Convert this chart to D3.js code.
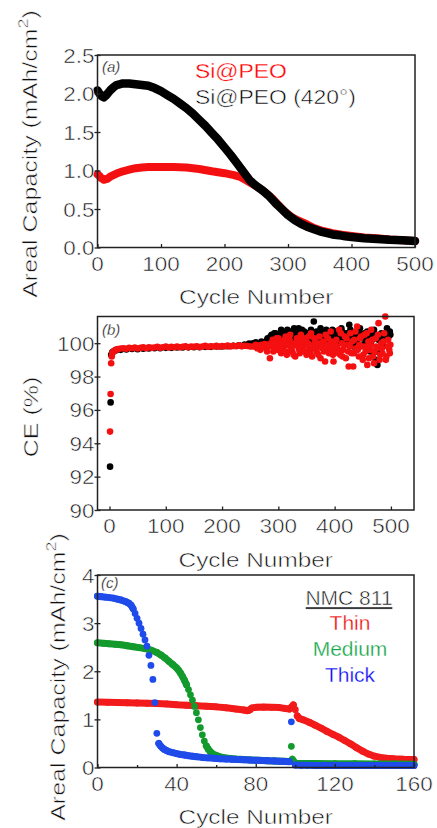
<!DOCTYPE html>
<html><head><meta charset="utf-8">
<script src="https://cdn.jsdelivr.net/npm/d3@7"></script>
<style>html,body{margin:0;padding:0;background:#fff;}svg{display:block;font-family:'Liberation Sans',Arial,Helvetica,sans-serif;}
text{stroke:#fff;stroke-width:0.55px;paint-order:normal;}
text.leg{stroke-width:0.3px;}</style>
</head><body>
<svg id="chart" width="437" height="828"></svg>
<script>
// ---------- Panel (a): areal capacity vs cycle ----------
const siPeoCapA = [[0,0.95],[3,0.93],[6,0.90],[10,0.88],[15,0.89],[20,0.92],[30,0.96],[40,0.99],[50,1.01],[60,1.03],[70,1.04],[80,1.045],[100,1.045],[120,1.045],[140,1.04],[160,1.02],[180,0.99],[200,0.965],[215,0.94],[225,0.915],[235,0.87],[245,0.82],[255,0.77],[265,0.71],[275,0.64],[285,0.55],[295,0.465],[305,0.40],[315,0.355],[325,0.32],[340,0.255],[355,0.215],[370,0.185],[385,0.165],[400,0.15],[420,0.13],[440,0.12],[460,0.105],[480,0.095],[500,0.085]];
const siPeo420CapA = [[0,2.04],[3,2.00],[6,1.97],[10,1.95],[14,1.98],[20,2.04],[25,2.08],[30,2.11],[40,2.13],[50,2.13],[60,2.12],[70,2.11],[80,2.10],[90,2.07],[100,2.03],[110,1.98],[120,1.93],[130,1.87],[140,1.81],[150,1.74],[160,1.66],[170,1.58],[180,1.49],[190,1.40],[200,1.30],[210,1.20],[220,1.09],[230,0.98],[240,0.87],[250,0.80],[260,0.74],[270,0.67],[280,0.58],[290,0.50],[300,0.42],[310,0.36],[320,0.31],[330,0.27],[340,0.24],[350,0.21],[360,0.19],[370,0.17],[380,0.16],[390,0.145],[400,0.135],[420,0.12],[440,0.11],[460,0.10],[480,0.095],[500,0.085]];
const capTicksA = [0,0.5,1.0,1.5,2.0,2.5];
const cycleTicksA = [0,100,200,300,400,500];
const legendA = ["Si@PEO","Si@PEO (420°)"];

// ---------- Panel (b): coulombic efficiency ----------
const siPeoCE = [[1,94.7],[2,96.95],[3,98.8],[4,99.2],[5,99.4],[7,99.5],[9,99.55],[11,99.6],[13,99.62],[15,99.65],[20,99.68],[25,99.70],[30,99.66],[35,99.72],[40,99.70],[45,99.74],[50,99.68],[55,99.72],[60,99.75],[65,99.70],[70,99.76],[75,99.72],[80,99.74],[85,99.78],[90,99.72],[95,99.76],[100,99.80],[105,99.74],[110,99.78],[115,99.76],[120,99.80],[125,99.75],[130,99.78],[135,99.82],[140,99.76],[145,99.80],[150,99.78],[155,99.82],[160,99.77],[165,99.80],[170,99.84],[175,99.78],[180,99.82],[185,99.80],[190,99.85],[195,99.79],[200,99.83],[205,99.81],[210,99.86],[215,99.80],[220,99.84],[225,99.82],[230,99.87],[235,99.81],[240,99.85],[245,99.83],[250,99.80],
[255,99.8],[260,99.9],[262,99.7],[265,99.85],[268,99.6],[270,99.9],[273,99.75],[276,99.95],[280,99.5],[283,99.8],[285,99.1],[288,99.9],[290,100.2],[293,99.7],[296,100.1],[298,99.6],[300,100.3],[303,99.9],[305,99.4],[308,100.1],[310,99.8],[313,100.4],[315,99.3],[318,99.9],[320,100.2],[323,99.6],[325,99.5],[328,100.0],[330,99.2],[333,100.3],[335,99.8],[338,99.4],[340,100.5],[343,99.7],[345,99.9],[348,100.3],[350,99.3],[353,100.0],[355,99.6],[358,100.6],[360,99.2],[363,99.9],[365,100.2],[368,99.5],[370,99.8],[373,100.4],[375,99.1],[378,99.7],[380,100.1],[383,98.9],[385,99.6],[388,100.3],[390,99.4],[393,100.7],[395,99.8],[398,98.9],[400,99.5],[403,100.2],[405,99.7],[408,100.8],[410,99.3],[413,100.0],[415,99.6],[418,100.4],[420,99.1],[423,99.9],[425,98.6],[428,100.6],[430,99.4],[433,98.6],[435,100.2],[438,99.7],[440,101.0],[443,99.2],[445,100.3],[448,99.8],[450,99.0],[453,100.5],[455,99.5],[458,98.7],[460,100.1],[463,99.6],[465,100.8],[468,99.2],[470,98.8],[473,100.3],[475,99.7],[478,101.2],[480,99.0],[483,100.0],[485,99.4],[488,100.6],[490,101.6],[492,99.2],[495,100.2],[497,99.6],[499,99.9],
[282,99.9],[287,100.0],[291,99.5],[294,99.9],[297,100.3],[301,99.7],[304,100.0],[307,99.6],[311,100.2],[314,99.9],[317,99.5],[321,100.5],[324,99.8],[327,99.3],[331,99.9],[334,100.1],[337,99.6],[341,99.9],[344,100.2],[347,99.5],[351,99.9],[354,100.4],[357,99.4],[361,99.7],[364,100.3],[367,99.9],[371,99.3],[374,100.0],[377,99.8],[381,99.5],[384,100.5],[387,99.9],[391,99.6],[394,100.1],[397,99.3],[401,100.0],[404,99.8],[407,99.4],[411,100.6],[414,99.2],[417,99.9],[421,100.3],[424,99.5],[427,99.8],[431,100.1],[434,99.4],[437,100.7],[441,99.6],[444,99.9],[447,100.4],[451,99.3],[454,99.8],[457,100.6],[461,99.1],[464,99.9],[467,100.2],[471,99.5],[474,99.8],[477,100.5],[481,99.3],[484,99.7],[487,100.1],[491,99.0],[494,99.8],[498,99.4]];
const siPeo420CE = [[1,92.6],[2,96.45],[3,99.3],[5,99.45],[7,99.5],[9,99.55],[12,99.58],[20,99.6],[30,99.62],[40,99.65],[50,99.64],[60,99.67],[70,99.68],[80,99.7],[90,99.7],[100,99.72],[110,99.72],[120,99.74],[130,99.74],[140,99.75],[150,99.76],[160,99.76],[170,99.78],[180,99.78],[190,99.8],[200,99.8],[210,99.82],[220,99.84],[230,99.88],[240,99.92],[248,99.98],[255,100.0],[260,100.05],[265,99.95],[270,100.1],[275,100.0],[280,100.2],[283,100.1],[286,100.4],[290,100.3],[293,100.6],[296,100.2],[300,100.5],[303,100.3],[306,100.7],[310,100.4],[313,100.2],[316,100.8],[320,100.5],[323,100.3],[326,100.6],[330,100.1],[333,100.5],[336,100.9],[340,100.4],[343,100.2],[346,100.7],[350,100.3],[353,100.6],[356,100.1],[360,100.4],[363,101.3],[366,100.5],[370,100.2],[373,100.6],[376,100.3],[380,100.7],[383,100.0],[386,100.4],[390,100.6],[393,100.2],[396,100.8],[400,100.3],[403,99.9],[406,100.5],[410,100.2],[413,100.7],[416,100.4],[420,100.0],[423,100.6],[426,101.1],[430,100.3],[433,99.8],[436,100.5],[440,100.2],[443,100.7],[446,100.4],[450,99.9],[453,100.6],[456,100.2],[460,100.5],[463,99.5],[466,100.3],[470,100.8],[473,99.0],[476,98.7],[480,100.4],[483,100.6],[486,100.1],[490,100.5],[493,100.9],[496,100.4],[499,100.5],
[281,100.3],[284,100.0],[288,100.5],[291,100.2],[295,100.6],[298,100.1],[302,100.4],[305,100.8],[308,100.2],[312,100.6],[315,100.3],[318,100.1],[322,100.7],[325,100.4],[328,100.9],[332,100.3],[335,100.6],[338,100.2],[342,100.8],[345,100.4],[348,100.1],[352,100.6],[355,100.3],[358,100.8],[362,100.4],[365,100.1],[368,100.7],[372,100.4],[375,100.9],[378,100.2],[382,100.5],[385,100.8],[388,100.3],[392,100.6],[395,100.1],[398,100.5],[402,100.7],[405,100.2],[408,100.4],[412,100.9],[415,100.3],[418,100.6],[422,100.2],[425,100.5],[428,100.8],[432,100.3],[435,100.6],[438,100.1],[442,100.4],[445,100.9],[448,100.3],[452,100.5],[455,100.2],[458,100.7],[462,100.4],[465,100.1],[468,100.6],[472,100.3],[475,99.5],[478,100.2],[482,100.5],[485,99.9],[488,100.3],[492,100.6],[495,100.4],[498,100.7]];
const ceTicks = [90,92,94,96,98,100];
const cycleTicksB = [0,100,200,300,400,500];

// ---------- Panel (c): NMC 811 areal capacity ----------
const thinCap = [[0,1.36],[5,1.355],[10,1.35],[15,1.345],[20,1.34],[25,1.335],[30,1.33],[35,1.32],[40,1.305],[45,1.295],[50,1.285],[55,1.275],[60,1.26],[65,1.24],[70,1.215],[74,1.195],[76,1.18],[77,1.20],[78,1.235],[80,1.25],[84,1.255],[88,1.25],[92,1.245],[95,1.225],[97,1.215],[98,1.25],[99,1.30],[100,1.20],[101,1.07],[102,1.02],[104,0.99],[107,0.94],[110,0.88],[113,0.82],[116,0.75],[119,0.69],[122,0.63],[125,0.56],[128,0.49],[131,0.41],[134,0.34],[137,0.28],[140,0.235],[143,0.21],[146,0.195],[150,0.18],[155,0.17],[160,0.165]];
const mediumCap = [[0,2.59],[3,2.58],[6,2.57],[9,2.56],[12,2.55],[15,2.53],[18,2.51],[21,2.49],[24,2.47],[27,2.44],[30,2.39],[32,2.34],[34,2.28],[36,2.21],[38,2.14],[40,2.07],[41,2.02],[42,1.96],[43,1.89],[44,1.81],[45,1.72],[46,1.62],[47,1.51],[48,1.40],[49,1.27],[50,1.14],[51,0.99],[52,0.83],[53,0.68],[54,0.55],[55,0.45],[56,0.38],[57,0.33],[58,0.29],[60,0.25],[62,0.22],[64,0.205],[67,0.19],[70,0.175],[74,0.165],[78,0.155],[82,0.15],[86,0.14],[90,0.135],[94,0.13],[97,0.125],[98,0.44],[98.5,0.17],[100,0.09],[105,0.085],[110,0.085],[120,0.08],[130,0.08],[140,0.075],[150,0.075],[160,0.07]];
const thickCap = [[0,3.56],[2,3.55],[4,3.54],[6,3.53],[8,3.52],[10,3.50],[12,3.48],[14,3.45],[15,3.43],[16,3.41],[17,3.37],[18,3.30],[19,3.20],[20,3.10],[21,3.00],[22,2.89],[23,2.77],[24,2.65],[25,2.52],[26,2.33],[27,2.12],[28,1.83],[29,1.35],[30,0.71],[31,0.50],[32,0.44],[33,0.40],[34,0.37],[35,0.35],[36,0.33],[38,0.31],[40,0.29],[42,0.27],[44,0.26],[46,0.245],[48,0.235],[50,0.225],[53,0.21],[56,0.20],[59,0.19],[62,0.18],[65,0.175],[68,0.17],[71,0.165],[74,0.16],[77,0.155],[80,0.15],[83,0.145],[86,0.14],[89,0.135],[92,0.13],[95,0.125],[97,0.12],[98,0.95],[100,0.05],[103,0.045],[106,0.045],[110,0.04],[120,0.04],[130,0.04],[140,0.04],[150,0.04],[160,0.04]];
const capTicksC = [0,1,2,3,4];
const cycleTicksC = [0,40,80,120,160];
const cycleMinorC = [20,60,100,140];
const legendC = ["Thin","Medium","Thick"];

const RED = "#f41010", BLACK = "#000000";
const cRed = "#f21a1a", cGreen = "#139a2c", cBlue = "#1f4bea";
const tRed = "#ee1010", tGreen = "#10a545", tBlue = "#0a0af5";

const svg = d3.select("#chart");

function txt(g, x, y, str, o = {}) {
  const t = g.append("text")
    .attr("transform", `translate(${x},${y}) rotate(${o.rotate || 0}) scale(${o.sx || 1},1)`)
    .attr("text-anchor", o.anchor || "middle")
    .attr("font-size", o.size || 21)
    .attr("fill", o.fill || "#111");
  if (o.italic) t.attr("font-style", "italic");
  if (o.cls) t.attr("class", o.cls);
  if (str !== null) t.text(str);
  return t;
}

function frame(g, x, y, xt, yt, opts) {
  const [x0, x1] = x.range(), [y0, y1] = y.range();
  const ab = g.append("g").attr("transform", `translate(0,${y0})`)
    .call(d3.axisBottom(x).tickValues(xt).tickSize(-3.5).tickFormat(""));
  ab.select(".domain").remove();
  if (opts.minor) {
    const am = g.append("g").attr("transform", `translate(0,${y0})`)
      .call(d3.axisBottom(x).tickValues(opts.minor).tickSize(-2.5).tickFormat(""));
    am.select(".domain").remove();
  }
  const al = g.append("g").attr("transform", `translate(${x0},0)`)
    .call(d3.axisLeft(y).tickValues(yt).tickSize(3).tickFormat(""));
  al.select(".domain").remove();
  const al2 = g.append("g").attr("transform", `translate(${x0},0)`)
    .call(d3.axisLeft(y).tickValues(yt).tickSize(-3).tickFormat(""));
  al2.select(".domain").remove();
  g.selectAll(".tick line").attr("stroke", "#222").attr("stroke-width", 1.3);
  g.append("rect").attr("x", x0).attr("y", y1).attr("width", x1 - x0).attr("height", y0 - y1)
    .attr("fill", "none").attr("stroke", "#222").attr("stroke-width", 1.5);
  xt.forEach(v => txt(g, x(v), y0 + 23, opts.xf(v), {size: 21, sx: 1.07}));
  yt.forEach(v => txt(g, x0 - 3, y(v) + 7.5, opts.yf(v), {size: 21, sx: 1.07, anchor: "end"}));
  txt(g, (x0 + x1) / 2, y0 + 56.5, "Cycle Number", {size: 21, sx: 1.16});
}

function yTitle(g, x, y, withUnit, str) {
  const t = txt(g, x, y, null, {rotate: -90, size: 21, sx: 1.19});
  if (withUnit) {
    t.append("tspan").text("Areal Capacity (mAh/cm");
    t.append("tspan").attr("font-size", 15).attr("dy", -9).text("2");
    t.append("tspan").attr("dy", 9).text(")");
  } else {
    t.text(str);
  }
}

function thickLine(g, data, x, y, color, w) {
  g.append("path").datum(data)
    .attr("d", d3.line().x(d => x(d[0])).y(d => y(d[1])))
    .attr("fill", "none").attr("stroke", color).attr("stroke-width", w)
    .attr("stroke-linecap", "round").attr("stroke-linejoin", "round");
}

function dotSeries(g, data, x, y, color, r, w, thr) {
  const segs = [];
  let cur = [data[0]];
  for (let i = 1; i < data.length; i++) {
    const dy = Math.abs(y(data[i][1]) - y(data[i - 1][1]));
    if (dy < thr) cur.push(data[i]); else { segs.push(cur); cur = [data[i]]; }
  }
  segs.push(cur);
  const line = d3.line().x(d => x(d[0])).y(d => y(d[1]));
  segs.filter(s => s.length > 1).forEach(s =>
    g.append("path").attr("d", line(s)).attr("fill", "none").attr("stroke", color)
      .attr("stroke-width", w).attr("stroke-linecap", "round").attr("stroke-linejoin", "round"));
  g.selectAll(null).data(data).enter().append("circle")
    .attr("cx", d => x(d[0])).attr("cy", d => y(d[1])).attr("r", r).attr("fill", color);
}

// ===== Panel (a) =====
{
  const g = svg.append("g");
  const x = d3.scaleLinear().domain([0, 500]).range([97.5, 415]);
  const y = d3.scaleLinear().domain([0, 2.5]).range([247.5, 55]);
  thickLine(g, siPeoCapA, x, y, RED, 8);
  thickLine(g, siPeo420CapA, x, y, BLACK, 8.5);
  frame(g, x, y, cycleTicksA, capTicksA, {xf: d3.format("d"), yf: d3.format(".1f")});
  yTitle(g, 37, 154, true);
  txt(g, 102, 72, "(a)", {size: 15, italic: true, anchor: "start", cls: "leg"});
  txt(g, 195, 78, legendA[0], {size: 21, sx: 1.09, anchor: "start", fill: "#ff0000", cls: "leg"});
  txt(g, 195, 103.5, legendA[1], {size: 21, sx: 1.09, anchor: "start", fill: "#000"});
}

// ===== Panel (b) =====
{
  const g = svg.append("g");
  const x = d3.scaleLinear().domain([-21.3, 541]).range([97.5, 414]);
  const y = d3.scaleLinear().domain([90, 101.6]).range([510, 316.5]);
  g.selectAll(null).data(siPeo420CE).enter().append("circle")
    .attr("cx", d => x(d[0])).attr("cy", d => y(d[1])).attr("r", 3.3).attr("fill", BLACK);
  g.selectAll(null).data(siPeoCE).enter().append("circle")
    .attr("cx", d => x(d[0])).attr("cy", d => y(d[1])).attr("r", 3.3).attr("fill", RED);
  frame(g, x, y, cycleTicksB, ceTicks, {xf: d3.format("d"), yf: d3.format("d")});
  yTitle(g, 38, 417, false, "CE (%)");
  txt(g, 102, 335, "(b)", {size: 15, italic: true, anchor: "start", cls: "leg"});
}

// ===== Panel (c) =====
{
  const g = svg.append("g");
  const x = d3.scaleLinear().domain([0, 160]).range([97.5, 414]);
  const y = d3.scaleLinear().domain([0, 4]).range([767.5, 575]);
  dotSeries(g, thinCap, x, y, cRed, 3.4, 7, 4.5);
  dotSeries(g, mediumCap, x, y, cGreen, 3.4, 7, 4.5);
  dotSeries(g, thickCap, x, y, cBlue, 3.4, 7, 4.5);
  frame(g, x, y, cycleTicksC, capTicksC, {xf: d3.format("d"), yf: d3.format("d"), minor: cycleMinorC});
  yTitle(g, 65, 677, true);
  txt(g, 101, 588, "(c)", {size: 15, italic: true, anchor: "start", cls: "leg"});
  txt(g, 349, 605, "NMC 811", {size: 21}).attr("text-decoration", "underline");
  const cols = [tRed, tGreen, tBlue];
  legendC.forEach((s, i) => txt(g, 350, 630 + i * 26, s, {size: 21, fill: cols[i], cls: "leg"}));
}
</script>
</body></html>
